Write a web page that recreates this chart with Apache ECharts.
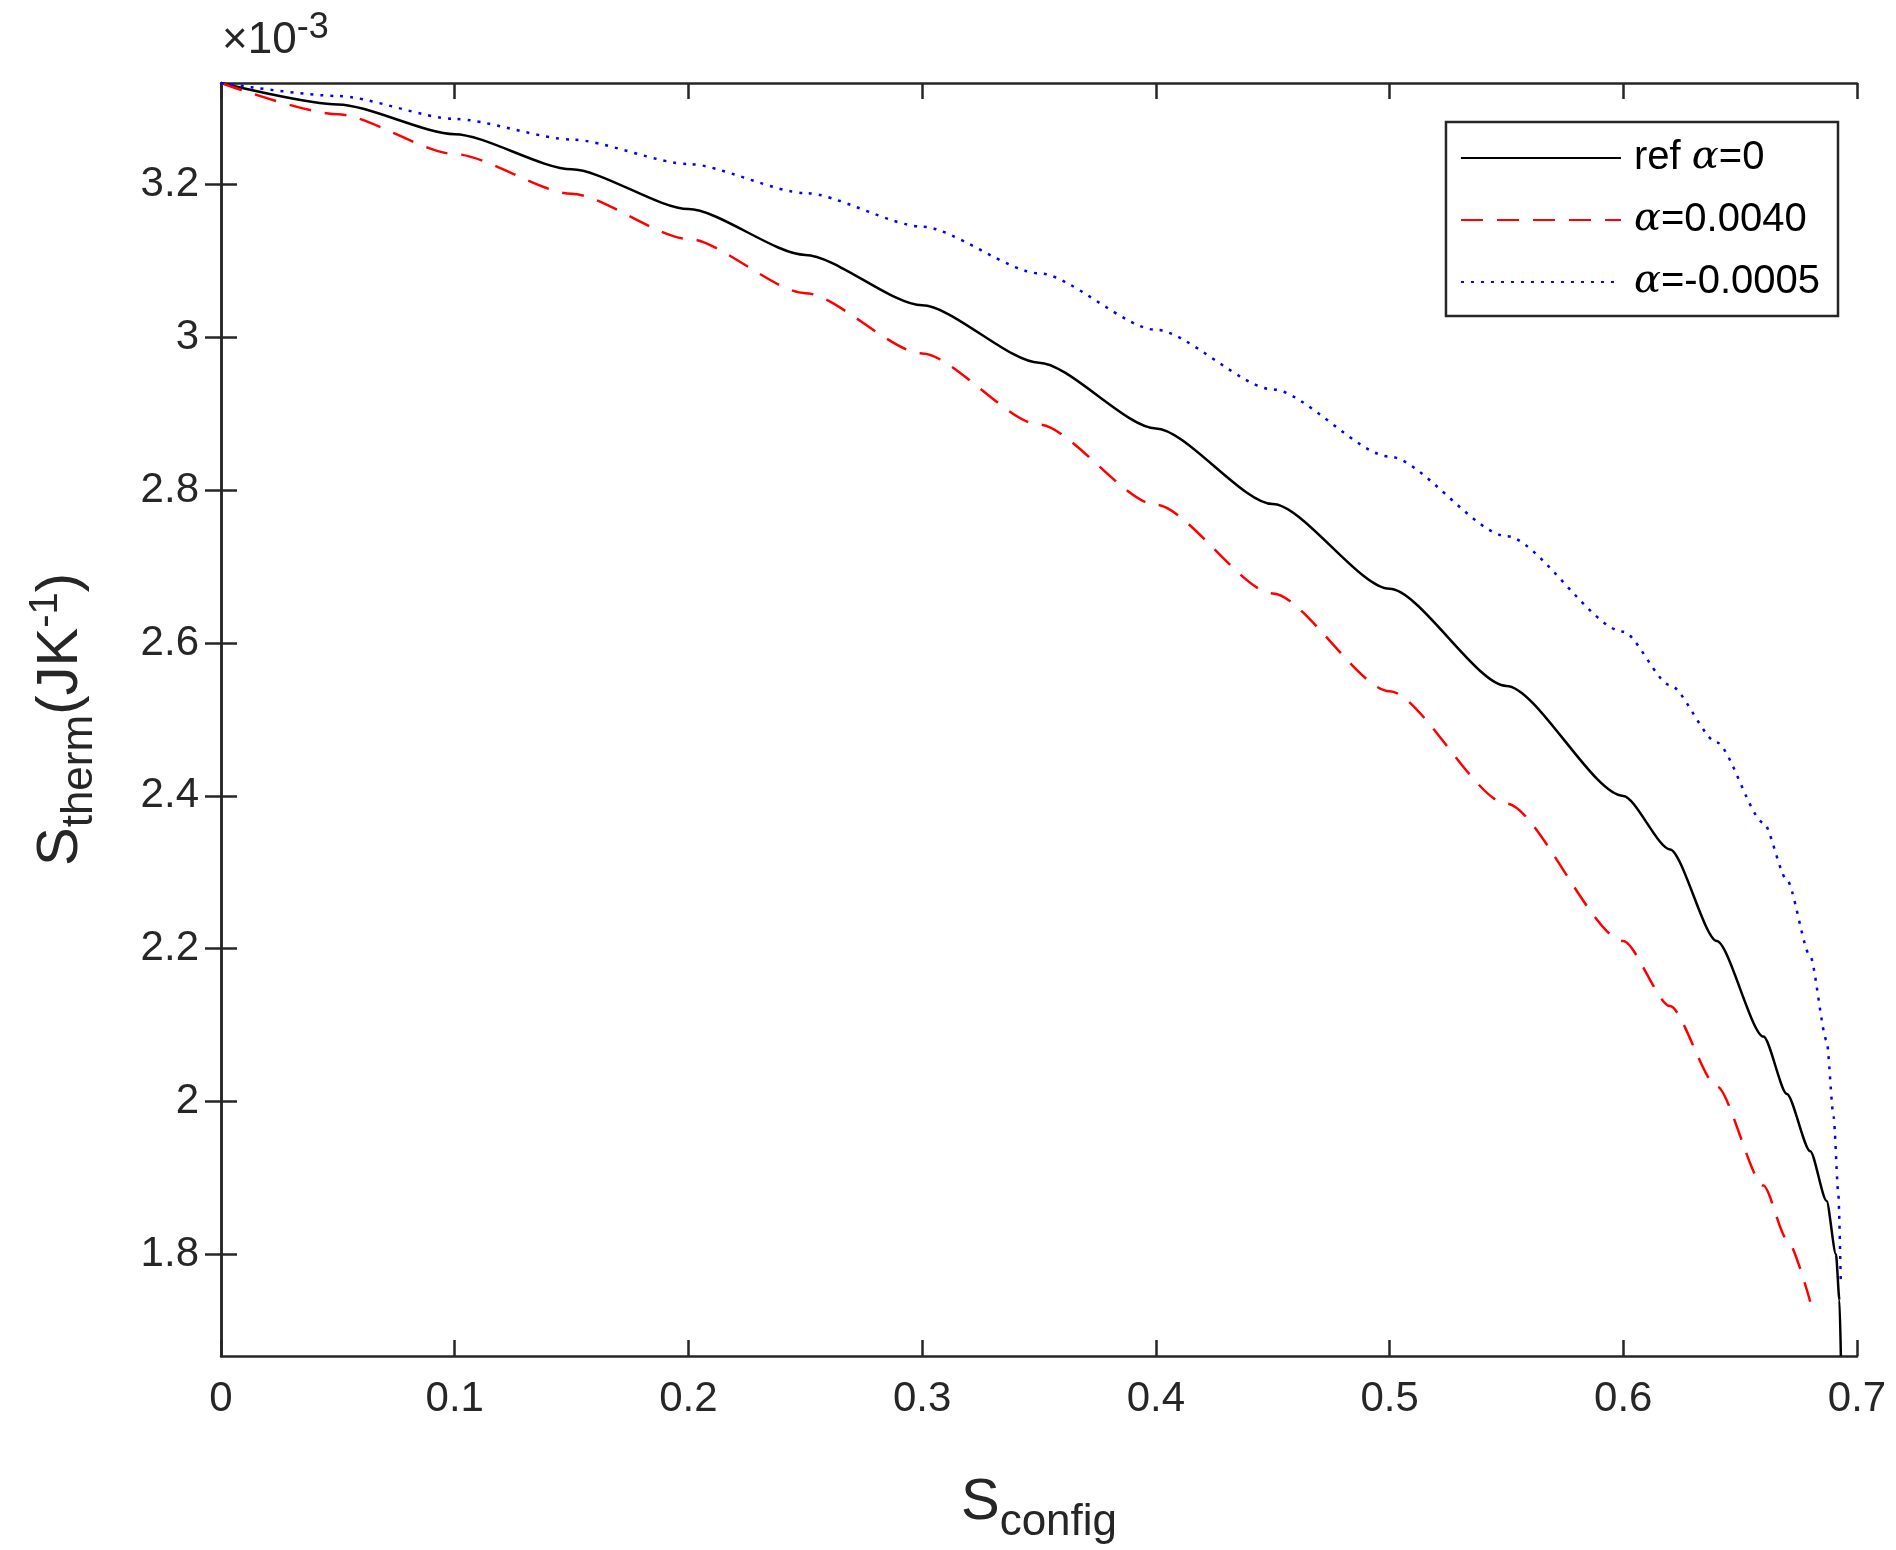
<!DOCTYPE html>
<html><head><meta charset="utf-8">
<script src="https://cdn.jsdelivr.net/npm/echarts@6/dist/echarts.min.js"></script>
<style>body{margin:0}#c{width:1896px;height:1550px}</style></head>
<body><div id="c"></div>
<script>
// S_config vs S_therm (units of 1e-3 J/K)
const refCurve = [[0,3.333],[0.05,3.305],[0.1,3.266],[0.15,3.22],[0.2,3.168],[0.25,3.108],[0.3,3.042],[0.35,2.967],[0.4,2.881],[0.45,2.782],[0.5,2.671],[0.55,2.544],[0.6,2.400],[0.62,2.330],[0.64,2.210],[0.66,2.085],[0.67,2.010],[0.68,1.935],[0.687,1.870],[0.691,1.800],[0.6925,1.740],[0.6931,1.667]];
const redCurve = [[0,3.333],[0.05,3.292],[0.1,3.240],[0.15,3.188],[0.2,3.129],[0.25,3.058],[0.3,2.979],[0.35,2.886],[0.4,2.781],[0.45,2.665],[0.5,2.537],[0.55,2.390],[0.6,2.210],[0.62,2.125],[0.64,2.020],[0.66,1.890],[0.67,1.820],[0.68,1.738]];
const blueCurve = [[0,3.333],[0.05,3.316],[0.1,3.286],[0.15,3.259],[0.2,3.227],[0.25,3.189],[0.3,3.145],[0.35,3.084],[0.4,3.010],[0.45,2.932],[0.5,2.844],[0.55,2.740],[0.6,2.615],[0.62,2.545],[0.64,2.470],[0.66,2.365],[0.67,2.290],[0.68,2.190],[0.687,2.080],[0.69,1.980],[0.692,1.880],[0.6931,1.760]];
const seriesNames = ['ref', 'red', 'blue'];
const yTicks = [1.8,2,2.2,2.4,2.6,2.8,3,3.2];

const font = 'Arial, "Liberation Sans", sans-serif';
const axisCol = '#262626';
const chart = echarts.init(document.getElementById('c'));
const hidden = {show:false};
const tick = {show:true, inside:true, length:16, lineStyle:{color:axisCol, width:2.5}};
const a = '{it|α}';
chart.setOption({
  animation:false,
  backgroundColor:'#fff',
  grid:{left:221, right:39, top:83, bottom:189, containLabel:false},
  xAxis:[{
    type:'value', min:0, max:0.7, interval:0.1,
    name:'{m|S}{s|config}', nameLocation:'middle', nameGap:105,
    nameTextStyle:{rich:{m:{fontSize:58,fontFamily:font,color:axisCol},s:{fontSize:44,fontFamily:font,color:axisCol,padding:[40,0,0,0]}}},
    axisLine:{lineStyle:{color:axisCol,width:2.5}},
    axisTick:tick,
    axisLabel:{fontSize:42,fontFamily:font,color:axisCol,margin:22,formatter:v=>String(+v.toFixed(1))},
    splitLine:hidden
  },{type:'value', min:0, max:0.7, interval:0.1, position:'top',
    axisLine:{show:true,lineStyle:{color:axisCol,width:2.5}}, axisTick:tick, axisLabel:hidden, splitLine:hidden}],
  yAxis:[{
    type:'value', min:1.667, max:3.333,
    name:'{m|S}{s|therm}{m|(JK}{p|-1}{m|)}', nameLocation:'middle', nameGap:125, nameRotate:90,
    nameTextStyle:{rich:{m:{fontSize:58,fontFamily:font,color:axisCol},s:{fontSize:44,fontFamily:font,color:axisCol,padding:[0,0,-38,0]},p:{fontSize:40,fontFamily:font,color:axisCol,padding:[0,0,30,0]}}},
    axisLine:{lineStyle:{color:axisCol,width:2.5}},
    axisTick:{...tick, customValues:yTicks},
    axisLabel:{fontSize:42,fontFamily:font,color:axisCol,margin:22,customValues:yTicks,formatter:v=>String(+v.toFixed(1))},
    splitLine:hidden
  },{type:'value', min:1.667, max:3.333, position:'right',
    axisLine:{show:true,lineStyle:{color:axisCol,width:2.5}}, axisTick:{...tick, customValues:yTicks}, axisLabel:hidden, splitLine:hidden}],
  legend:{
    orient:'vertical', right:58, top:122, itemWidth:160, itemHeight:20, itemGap:22,
    padding:[16,18,14,14], borderColor:axisCol, borderWidth:2.5, backgroundColor:'#fff',
    data:seriesNames, itemStyle:{opacity:0},
    formatter:n=>({ref:'ref '+a+'=0', red:a+'=0.0040', blue:a+'=-0.0005'})[n],
    textStyle:{fontSize:40,fontFamily:font,color:'#000',padding:[0,0,0,8],rich:{it:{fontSize:40,fontStyle:'italic',fontFamily:'"DejaVu Serif", serif',color:'#000'}}}
  },
  graphic:[{type:'text', left:222, top:10, style:{text:'×10{p|-3}', fontSize:44, fontFamily:font, fill:axisCol,
    rich:{p:{fontSize:36, fontFamily:font, fill:axisCol, padding:[0,0,26,0]}}}}],
  series:[
    {name:'ref', type:'line', data:refCurve, smooth:0.25, smoothMonotone:'x', symbol:'none', lineStyle:{color:'#000',width:2.5}, itemStyle:{color:'#000'}},
    {name:'red', type:'line', data:redCurve, smooth:0.25, smoothMonotone:'x', symbol:'none', lineStyle:{color:'#ff0000',width:2.5,type:[22,14]}, itemStyle:{color:'#ff0000'}},
    {name:'blue', type:'line', data:blueCurve, smooth:0.25, smoothMonotone:'x', symbol:'none', lineStyle:{color:'#0000ff',width:2.5,type:[3,7]}, itemStyle:{color:'#0000ff'}}
  ]
});
</script></body></html>
